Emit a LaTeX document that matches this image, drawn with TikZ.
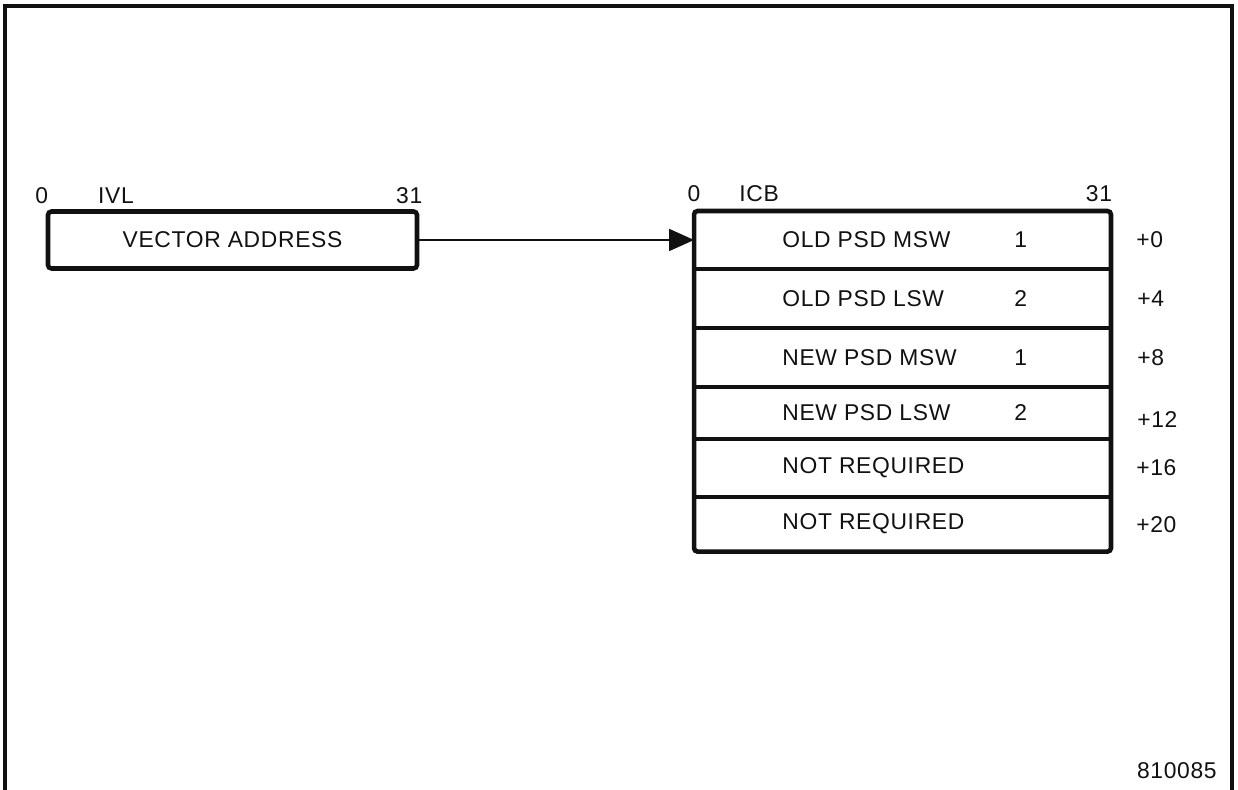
\documentclass[tikz,border=0pt]{standalone}
\usepackage{fontspec}
\setmainfont[LetterSpace=3]{Liberation Sans}
\usepackage{tikz}
\usetikzlibrary{arrows.meta, positioning}
\definecolor{inkblack}{HTML}{111111}

\begin{document}
\begin{tikzpicture}[
    font=\fontsize{13}{15}\selectfont,
    color=inkblack,
    regbox/.style={draw, line width=2.6pt, rounded corners=2pt, minimum width=7.38cm, minimum height=1.14cm, inner sep=0pt},
    wordrow/.style={draw, line width=1.1pt, minimum width=8.3cm, inner sep=0pt},
    fieldtext/.style={inner sep=0pt},
  ]
  \useasboundingbox (0,0) rectangle (24.76,15.8);

  % Outer frame, open at the bottom
  \draw[line width=1.8pt] (0.1,0) -- (0.1,15.68) -- (24.64,15.68) -- (24.64,0);

  % IVL word
  \node[regbox] (ivl) at (4.65,11.0) {VECTOR ADDRESS};
  \node[fieldtext] (ivlzero) at ([xshift=-0.08cm, yshift=0.28cm]ivl.north west) {0};
  \node[fieldtext, anchor=west] (ivlname) at ([xshift=1.04cm, yshift=0.28cm]ivl.north west) {IVL};
  \node[fieldtext] (ivlhigh) at ([xshift=-0.2cm, yshift=0.28cm]ivl.north east) {31};

  % ICB words
  \node[wordrow, minimum height=1.12cm] (row1) at (18.05,11.0) {};
  \node[wordrow, minimum height=1.14cm, below=0pt of row1] (row2) {};
  \node[wordrow, minimum height=1.14cm, below=0pt of row2] (row3) {};
  \node[wordrow, minimum height=1.0cm, below=0pt of row3] (row4) {};
  \node[wordrow, minimum height=1.12cm, below=0pt of row4] (row5) {};
  \node[wordrow, minimum height=1.06cm, below=0pt of row5] (row6) {};
  \draw[line width=2.6pt, rounded corners=2pt] (row1.north west) rectangle (row6.south east);

  \node[fieldtext] (icbzero) at ([yshift=0.34cm]row1.north west) {0};
  \node[fieldtext, anchor=west] (icbname) at ([xshift=0.9cm, yshift=0.34cm]row1.north west) {ICB};
  \node[fieldtext] (icbhigh) at ([xshift=-0.24cm, yshift=0.34cm]row1.north east) {31};

  % Row contents
  \node[fieldtext, right=1.76cm of row1.west] (oldmsw) {OLD PSD MSW};
  \node[fieldtext, right=1.76cm of row2.west] (oldlsw) {OLD PSD LSW};
  \node[fieldtext, right=1.76cm of row3.west] (newmsw) {NEW PSD MSW};
  \node[fieldtext, right=1.76cm of row4.west] (newlsw) {NEW PSD LSW};
  \node[fieldtext, right=1.76cm of row5.west] (spare1) {NOT REQUIRED};
  \node[fieldtext, right=1.76cm of row6.west] (spare2) {NOT REQUIRED};

  \node[fieldtext, right=6.4cm of row1.west] (oldmswno) {1};
  \node[fieldtext, right=6.4cm of row2.west] (oldlswno) {2};
  \node[fieldtext, right=6.4cm of row3.west] (newmswno) {1};
  \node[fieldtext, right=6.4cm of row4.west] (newlswno) {2};

  % Byte offsets
  \node[fieldtext, right=0.5cm of row1.east] (off0) {+0};
  \node[fieldtext, right=0.52cm of row2.east] (off4) {+4};
  \node[fieldtext, right=0.52cm of row3.east] (off8) {+8};
  \node[fieldtext, right=0.52cm of row4.east, yshift=-0.14cm] (off12) {+12};
  \node[fieldtext, right=0.5cm of row5.east] (off16) {+16};
  \node[fieldtext, right=0.5cm of row6.east] (off20) {+20};

  % Pointer
  \draw[line width=1.1pt, -{Triangle[length=5mm, width=4.4mm]}] (ivl) -- (row1);

  \node[fieldtext, anchor=east] (figno) at (24.34,0.38) {810085};
\end{tikzpicture}
\end{document}
